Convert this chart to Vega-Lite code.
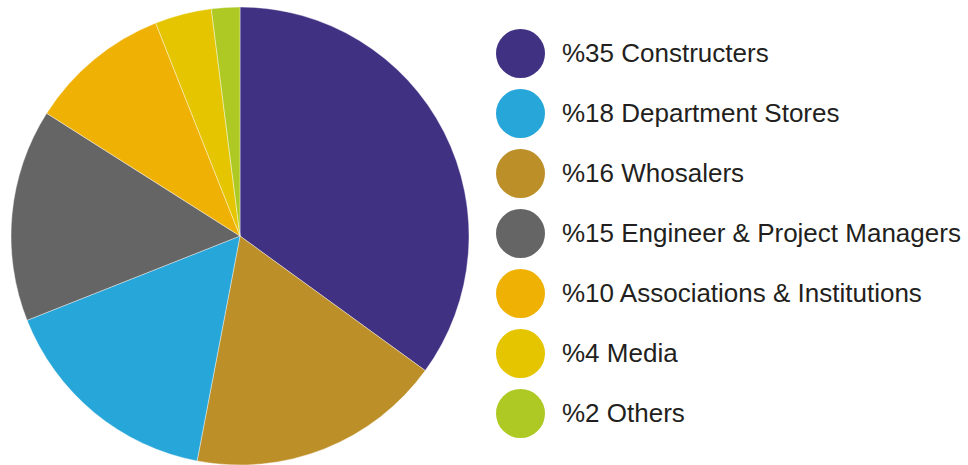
{
  "$schema": "https://vega.github.io/schema/vega-lite/v6.json",
  "width": 480,
  "height": 472,
  "padding": 0,
  "background": "white",
  "data": {
    "values": [
      {"segment": "%35 Constructers", "share": 35, "rank": 1},
      {"segment": "%16 Whosalers", "share": 18, "rank": 2},
      {"segment": "%18 Department Stores", "share": 16, "rank": 3},
      {"segment": "%15 Engineer & Project Managers", "share": 15, "rank": 4},
      {"segment": "%10 Associations & Institutions", "share": 10, "rank": 5},
      {"segment": "%4 Media", "share": 4, "rank": 6},
      {"segment": "%2 Others", "share": 2, "rank": 7}
    ]
  },
  "mark": {"type": "arc", "radius": 229, "stroke": "white", "strokeWidth": 0.4},
  "encoding": {
    "theta": {"field": "share", "type": "quantitative", "stack": true},
    "order": {"field": "rank", "type": "quantitative"},
    "color": {
      "field": "segment",
      "type": "nominal",
      "scale": {
        "domain": ["%35 Constructers", "%18 Department Stores", "%16 Whosalers", "%15 Engineer & Project Managers", "%10 Associations & Institutions", "%4 Media", "%2 Others"],
        "range": ["#403183", "#26a6d9", "#bd8f28", "#656565", "#f0b105", "#e5c500", "#aec923"]
      },
      "legend": {
        "title": null,
        "orient": "none",
        "legendX": 496,
        "legendY": 29,
        "symbolType": "circle",
        "symbolSize": 2401,
        "symbolStrokeWidth": 0,
        "labelFont": "Liberation Sans",
        "labelFontSize": 26,
        "labelColor": "#231f20",
        "labelOffset": 17,
        "labelLimit": 500,
        "rowPadding": 11,
        "padding": 0
      }
    }
  },
  "config": {"view": {"stroke": null}}
}
